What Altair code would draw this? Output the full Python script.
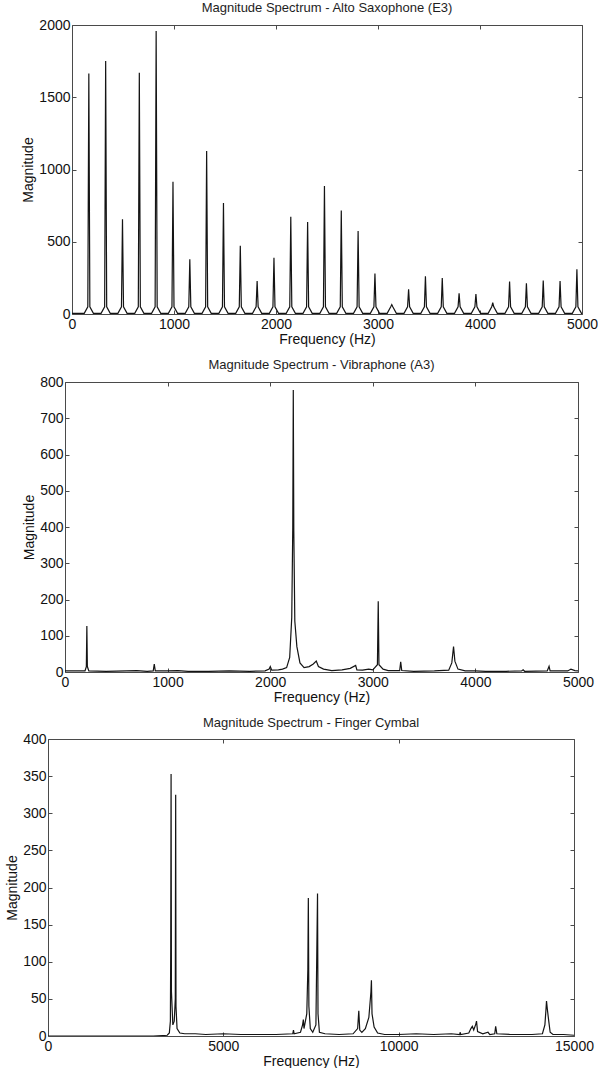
import altair as alt
import pandas as pd

FONT = "Liberation Sans"
LINE = "#141414"
FRAME = "#4a4a4a"

# ---------------- Alto Saxophone (E3) ----------------
sax_peak_freq = [165, 330, 495, 660, 825, 990, 1155, 1320, 1485, 1650,
                 1815, 1980, 2145, 2310, 2475, 2640, 2805, 2970, 3135, 3300,
                 3465, 3630, 3795, 3960, 4125, 4290, 4455, 4620, 4785, 4950]
sax_peak_mag = [1665, 1751, 655, 1670, 1958, 916, 378, 1128, 768, 473,
                228, 390, 673, 637, 886, 717, 574, 281, 65, 171,
                261, 249, 143, 138, 78, 224, 212, 231, 228, 309]
# shape of the skirt around each harmonic (offset in Hz, level; None = peak)
sax_skirt_offset = [-45, -10, 0, 10, 45]
sax_skirt_level = [5, 50, None, 50, 5]

# ---------------- Vibraphone (A3) ----------------
vib_freq = [0, 195, 208, 213, 218, 232, 400, 600, 700, 800, 860, 870, 880,
            1000, 1100, 1200, 1400, 1600, 1800, 1950, 1990, 2001, 2015, 2080,
            2120, 2160, 2190, 2210, 2220, 2225, 2230, 2240, 2260, 2290, 2330,
            2380, 2420, 2449, 2470, 2520, 2600, 2700, 2780, 2833, 2845, 2900,
            2960, 3000, 3045, 3053, 3060, 3100, 3150, 3262, 3272, 3282, 3400,
            3600, 3740, 3770, 3787, 3800, 3830, 3900, 4000, 4100, 4300, 4450,
            4465, 4480, 4700, 4718, 4728, 4900, 4931, 4970, 5000]
vib_mag = [3, 3, 15, 127, 15, 3, 2, 3, 4, 2, 3, 22, 3,
           3, 4, 2, 2, 3, 2, 3, 8, 15, 5, 6,
           8, 12, 40, 150, 400, 778, 390, 140, 70, 25, 12,
           15, 22, 30, 15, 8, 4, 6, 10, 18, 6, 5,
           8, 6, 20, 195, 20, 8, 4, 4, 28, 4, 2,
           3, 5, 25, 70, 30, 8, 3, 3, 2, 2, 3,
           6, 2, 3, 16, 3, 3, 8, 4, 3]

# ---------------- Finger Cymbal ----------------
cym_freq = [0, 3000, 3400, 3460, 3490, 3500, 3510, 3520, 3560, 3600, 3630,
            3641, 3650, 3680, 3760, 3900, 4200, 4500, 5000, 5500, 6000, 6500,
            6980, 7000, 7020, 7200, 7260, 7282, 7300, 7380, 7410, 7424, 7440,
            7480, 7550, 7640, 7670, 7686, 7700, 7740, 7900, 8300, 8700, 8830,
            8863, 8890, 8950, 9050, 9150, 9210, 9223, 9240, 9300, 9400, 9600,
            10000, 10500, 11000, 11500, 11740, 11752, 11770, 12000, 12060,
            12100, 12140, 12200, 12220, 12250, 12400, 12548, 12600, 12740,
            12766, 12800, 13200, 13800, 14100, 14170, 14200, 14216, 14240,
            14280, 14320, 14400, 14700, 15000]
cym_mag = [0, 0, 1, 4, 20, 119, 353, 60, 15, 20, 50,
           325, 40, 10, 4, 3, 3, 2, 3, 2, 2, 2,
           3, 8, 3, 5, 15, 22, 10, 30, 90, 186, 40,
           10, 5, 15, 130, 192, 30, 5, 3, 2, 3, 10,
           34, 8, 5, 10, 25, 60, 75, 30, 12, 4, 2,
           2, 3, 2, 3, 2, 5, 2, 4, 10,
           13, 8, 16, 20, 6, 3, 5, 2, 3,
           13, 3, 2, 2, 3, 15, 35, 47, 36,
           20, 5, 2, 2, 1]

# build the sax table from the harmonic lists
sax_rows = [(0, 5)]
for f, m in zip(sax_peak_freq, sax_peak_mag):
    for off, lv in zip(sax_skirt_offset, sax_skirt_level):
        sax_rows.append((f + off, m if lv is None else lv))
sax_rows.append((5000, 5))
sax_df = pd.DataFrame(sax_rows, columns=["f", "m"])
vib_df = pd.DataFrame({"f": vib_freq, "m": vib_mag})
cym_df = pd.DataFrame({"f": cym_freq, "m": cym_mag})


def panel(df, title, xmax, xstep, ymax, ystep, shift, w, h, ytitle_pad,
          title_offset):
    xs = alt.Scale(domain=[0, xmax], nice=False, zero=True, range=[shift, shift + w])
    ys = alt.Scale(domain=[0, ymax], nice=False, zero=True)
    xticks = list(range(0, xmax + 1, xstep))
    yticks = list(range(0, ymax + 1, ystep))
    base = alt.Chart(df)
    main = base.mark_line(color=LINE, strokeWidth=1.2, clip=True).encode(
        x=alt.X("f:Q", scale=xs, axis=alt.Axis(
            values=xticks, format="d", orient="bottom", title="Frequency (Hz)",
            ticks=False, tickSize=0, domain=True, grid=False, labelFlush=False,
            labelPadding=3, titlePadding=1)),
        y=alt.Y("m:Q", scale=ys, axis=alt.Axis(
            values=yticks, format="d", orient="left", title="Magnitude",
            ticks=False, tickSize=0, domain=True, grid=False, labelFlush=False,
            offset=-shift, labelPadding=2, titlePadding=ytitle_pad,
            minExtent=10)),
    )
    tick_style = dict(labels=False, domain=False, ticks=True, tickSize=4,
                      grid=False, tickColor=FRAME, title=None)
    ticks_bl = base.mark_line(opacity=0).encode(
        x=alt.X("f:Q", scale=xs, axis=alt.Axis(values=xticks, orient="bottom", offset=-4, **tick_style)),
        y=alt.Y("m:Q", scale=ys, axis=alt.Axis(values=yticks, orient="left", offset=-(shift + 4), **tick_style)),
    )
    ticks_tr = base.mark_line(opacity=0).encode(
        x=alt.X("f:Q", scale=xs, axis=alt.Axis(values=xticks, orient="top", offset=-4, **tick_style)),
        y=alt.Y("m:Q", scale=ys, axis=alt.Axis(values=yticks, orient="right", offset=-4, **tick_style)),
    )
    frame_style = dict(labels=False, domain=True, ticks=False, tickSize=0,
                       grid=False, title=None, offset=0)
    frame_tr = base.mark_line(opacity=0).encode(
        x=alt.X("f:Q", scale=xs, axis=alt.Axis(values=xticks, orient="top", **frame_style)),
        y=alt.Y("m:Q", scale=ys, axis=alt.Axis(values=yticks, orient="right", **frame_style)),
    )
    return alt.layer(main, ticks_bl, ticks_tr, frame_tr).resolve_axis(
        x="independent", y="independent"
    ).properties(
        width=shift + w, height=h,
        title=alt.TitleParams(title, offset=title_offset, fontSize=13,
                              font=FONT, fontWeight="normal", color="#1e1e1e",
                              anchor="middle", dx=shift / 2),
    )


p1 = panel(sax_df, "Magnitude Spectrum - Alto Saxophone (E3)", 5000, 1000,
           2000, 500, 24, 510, 289, 3, 3)
p2 = panel(vib_df, "Magnitude Spectrum - Vibraphone (A3)", 5000, 1000,
           800, 100, 17, 513, 290, 3, 3)
p3 = panel(cym_df, "Magnitude Spectrum - Finger Cymbal", 15000, 5000,
           400, 50, 0, 526, 297, 3, 2)

chart = alt.vconcat(p1, p2, p3, spacing=13).properties(
    padding={"left": 5, "top": 2, "right": 0, "bottom": 0},
    background="white",
).configure_view(
    stroke="transparent", strokeWidth=0
).configure_axis(
    labelFont=FONT, labelFontSize=14, labelColor="#111",
    titleFont=FONT, titleFontSize=14, titleColor="#111", titleFontWeight="normal",
    domainColor=FRAME, domainWidth=1,
)

chart.save("out.html", embed_options={"renderer": "svg", "actions": False})
